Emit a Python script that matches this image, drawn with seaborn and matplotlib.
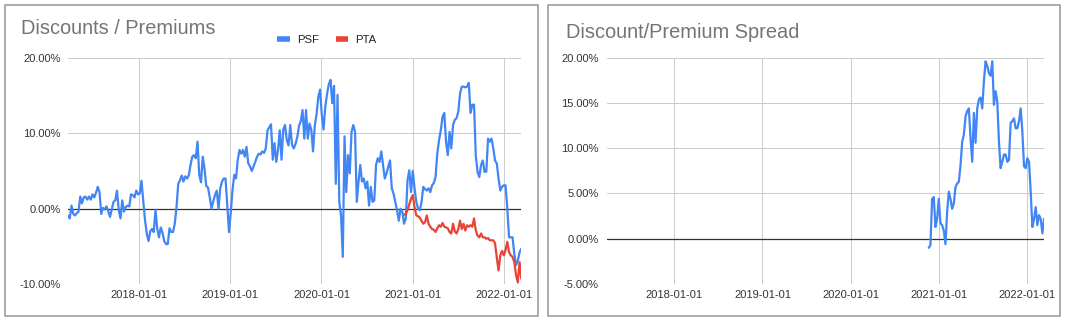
import pandas as pd
import matplotlib
matplotlib.use("Agg")
import matplotlib.pyplot as plt
import matplotlib.dates as mdates
from matplotlib.patches import Rectangle
from matplotlib.lines import Line2D
from matplotlib.ticker import FuncFormatter
import seaborn as sns

# Weekly discount / premium (%) of PSF, grouped by calendar year
psf_2017 = [-0.9, -1.3, 0.4, -0.7, -0.9, -0.6, -0.4, 1.6, 0.7, 1.5,
            1.6, 1.2, 1.6, 1.2, 1.9, 1.5, 2.1, 2.9, 2.2, -0.7,
            0.1, -0.1, 0.3, -0.3, -1.1, -0.1, 0.9, 1.1, 2.4, -0.2,
            -1.3, 1.1, -0.4, 0.2, 0.4, 0.3, 1.9, 1.8, 1.5, 2.4, 1.9]
psf_2018 = [2.0, 3.7, 1.0, -1.5, -3.3, -4.3, -3.0, -2.7, -3.1, -0.2,
            -2.7, -3.8, -2.5, -3.2, -4.3, -4.7, -4.7, -2.6, -3.1, -3.1,
            -2.0, 0.2, 3.3, 3.8, 4.4, 3.6, 4.3, 4.0, 4.4, 5.8,
            6.9, 7.1, 6.7, 8.9, 4.5, 3.5, 6.9, 5.3, 3.0, 2.8,
            1.5, 0.0, 1.0, 1.8, 2.4, 0.0, 2.7, 3.6, 4.0, 4.0, 0.5, -3.1]
psf_2019 = [-0.5, 2.5, 4.5, 4.0, 6.5, 7.8, 7.3, 7.8, 6.9, 8.2,
            6.0, 5.6, 5.0, 5.6, 6.2, 6.9, 7.3, 7.2, 7.6, 7.4,
            8.0, 10.4, 10.8, 11.2, 6.5, 8.7, 6.2, 7.8, 10.4, 6.5,
            10.5, 11.1, 9.1, 8.4, 11.1, 8.5, 8.0, 8.6, 9.5, 11.0,
            11.6, 13.1, 9.3, 13.1, 9.3, 11.3, 10.5, 7.6, 11.0, 12.5, 14.8, 15.8]
psf_2020 = [12.5, 10.5, 13.5, 15.2, 16.5, 17.1, 14.0, 16.3, 3.3, 15.1,
            0.9, -0.9, -6.4, 9.6, 2.2, 7.1, 4.7, 10.2, 11.1, 10.2,
            0.9, 3.6, 5.8, 3.6, 4.0, 2.7, 3.6, 0.4, 2.9, 0.9,
            1.1, 5.8, 6.7, 6.2, 7.6, 5.8, 4.0, 4.7, 5.6, 6.4,
            2.7, 2.0, 0.9, -0.2, -1.6, 0.0, -0.4, -2.0, -1.3, 3.8, 5.1, 2.2]
psf_2021_22 = [5.0, 2.7, 0.9, 0.0, -0.2, 0.9, 2.9, 2.6, 2.4, 2.7,
               2.2, 3.1, 3.4, 4.2, 7.3, 9.1, 10.4, 12.2, 12.7, 8.9,
               7.1, 10.2, 8.0, 11.1, 11.8, 12.0, 12.9, 15.3, 16.2, 16.2,
               16.1, 16.2, 16.7, 12.7, 13.8, 13.8, 7.0, 4.9, 4.2, 5.8,
               6.4, 4.9, 4.9, 9.3, 8.9, 9.3, 8.0, 6.4, 6.0, 4.0,
               2.4, 2.9, 3.1, 3.1, 0.0, -3.8, -3.8, -3.8, -6.0, -7.5,
               -6.9, -5.8, -5.3]

# Weekly discount / premium (%) of PTA, from its first listing
pta = [-0.8, -0.7, -0.2, 0.6, 1.3,
       1.8, 0.2, -0.9, -1.0, -1.2, -1.6, -2.0, -1.8, -0.9, -2.0,
       -2.4, -2.7, -2.8, -3.1, -2.6, -2.2, -2.4, -1.9, -2.4, -2.5,
       -2.6, -3.1, -3.3, -2.0, -3.0, -3.3, -2.7, -1.6, -2.7, -2.0,
       -2.9, -2.2, -2.4, -2.2, -2.4, -1.3, -2.9, -3.6, -3.8, -3.3,
       -3.8, -3.8, -4.0, -3.9, -4.2, -4.2, -4.2, -4.6, -6.5, -8.2,
       -6.2, -5.6, -6.2, -5.5, -4.4, -5.8, -6.2, -6.4, -7.1, -8.8,
       -9.8, -7.1, -9.3]

# Spread between the two funds (%)
spread = [-1.0, -0.7, 4.4, 4.6, 1.3, 2.2, 4.4, 1.7, 1.5, 0.9,
          -0.6, 3.0, 5.2, 4.4, 3.3, 3.9, 5.7, 6.1, 6.3, 8.1,
          10.7, 11.5, 13.5, 14.1, 14.4, 11.1, 8.5, 13.9, 10.6, 14.4,
          15.4, 15.6, 14.4, 17.4, 19.6, 19.1, 18.3, 18.0, 19.6, 14.8,
          16.3, 15.2, 10.7, 7.8, 8.5, 9.3, 9.3, 8.5, 8.7, 12.8,
          13.0, 13.3, 12.2, 12.2, 13.0, 14.4, 11.9, 8.0, 7.8, 8.9,
          8.5, 5.2, 1.3, 2.2, 3.5, 1.5, 2.6, 2.2, 0.6, 2.2]

year_ticks = ["2018-01-01", "2019-01-01", "2020-01-01", "2021-01-01", "2022-01-01"]
series_names = ["PSF", "PTA"]
series_colors = ["#4285F4", "#EA4335"]
titles = ["Discounts / Premiums", "Discount/Premium Spread"]

psf = psf_2017 + psf_2018 + psf_2019 + psf_2020 + psf_2021_22
psf_dates = pd.date_range("2017-03-21", "2022-03-12", periods=len(psf))
spread_dates = pd.date_range("2020-11-19", "2022-03-11", periods=len(spread))

funds = pd.concat([
    pd.DataFrame({"date": psf_dates, "value": psf, "series": series_names[0]}),
    pd.DataFrame({"date": psf_dates[-len(pta):], "value": pta, "series": series_names[1]}),
], ignore_index=True)
spread_df = pd.DataFrame({"date": spread_dates, "value": spread})

sns.set_theme(style="white")
plt.rcParams["font.family"] = ["Liberation Sans", "DejaVu Sans"]

W, H = 1065, 322
fig = plt.figure(figsize=(W / 100, H / 100), dpi=100)


def px_axes(x0, y0, x1, y1):
    """Axes placed by pixel box, y counted from the top edge."""
    return fig.add_axes([x0 / W, 1 - y1 / H, (x1 - x0) / W, (y1 - y0) / H])


def px_box(x0, y0, x1, y1):
    fig.patches.append(Rectangle((x0 / W, 1 - y1 / H), (x1 - x0) / W, (y1 - y0) / H,
                                 transform=fig.transFigure, fill=False,
                                 ec="#9e9e9e", lw=1.2))


px_box(5, 5, 538, 316)
px_box(548, 5, 1060, 316)

ax1 = px_axes(68, 58, 521.3, 284)
ax2 = px_axes(607.3, 57.7, 1044.3, 284)

sns.lineplot(data=funds, x="date", y="value", hue="series",
             palette=dict(zip(series_names, series_colors)),
             estimator=None, lw=1.6, ax=ax1, legend=False, zorder=3)
sns.lineplot(data=spread_df, x="date", y="value", color=series_colors[0],
             estimator=None, lw=1.6, ax=ax2, zorder=3)


def style(ax, ylim, yticks, xlim, ypad):
    ax.set_ylim(*ylim)
    ax.set_yticks(yticks)
    ax.yaxis.set_major_formatter(FuncFormatter(lambda v, _: f"{v:.2f}%"))
    ax.set_xlim(pd.Timestamp(xlim[0]), pd.Timestamp(xlim[1]))
    ax.set_xticks(pd.to_datetime(year_ticks))
    ax.xaxis.set_major_formatter(mdates.DateFormatter("%Y-%m-%d"))
    ax.grid(True, color="#cccccc", lw=0.75)
    ax.set_axisbelow(True)
    ax.axhline(0, color="#333333", lw=0.9, zorder=2)
    for s in ax.spines.values():
        s.set_visible(False)
    ax.tick_params(axis="both", length=0, labelsize=8, colors="#333333")
    ax.tick_params(axis="y", pad=ypad)
    ax.tick_params(axis="x", pad=4.5)
    ax.set_xlabel("")
    ax.set_ylabel("")


style(ax1, (-10, 20), [-10, 0, 10, 20], ("2017-03-21", "2022-03-12"), 5)
style(ax2, (-5, 20), [-5, 0, 5, 10, 15, 20], ("2017-03-30", "2022-03-12"), 6)

fig.text(21 / W, 1 - 33.5 / H, titles[0], fontsize=14.4, color="#757575",
         ha="left", va="baseline")
fig.text(566 / W, 1 - 37.7 / H, titles[1], fontsize=14.4, color="#757575",
         ha="left", va="baseline")

handles = [Line2D([], [], color=c, lw=4, solid_capstyle="butt") for c in series_colors]
leg = fig.legend(handles, series_names, loc="center",
                 bbox_to_anchor=(327 / W, 1 - 40 / H), ncol=2, frameon=False,
                 handlelength=1.1, handletextpad=0.6, columnspacing=1.5,
                 fontsize=8.2)
for t in leg.get_texts():
    t.set_color("#222222")

fig.savefig("out.png", dpi=100)
